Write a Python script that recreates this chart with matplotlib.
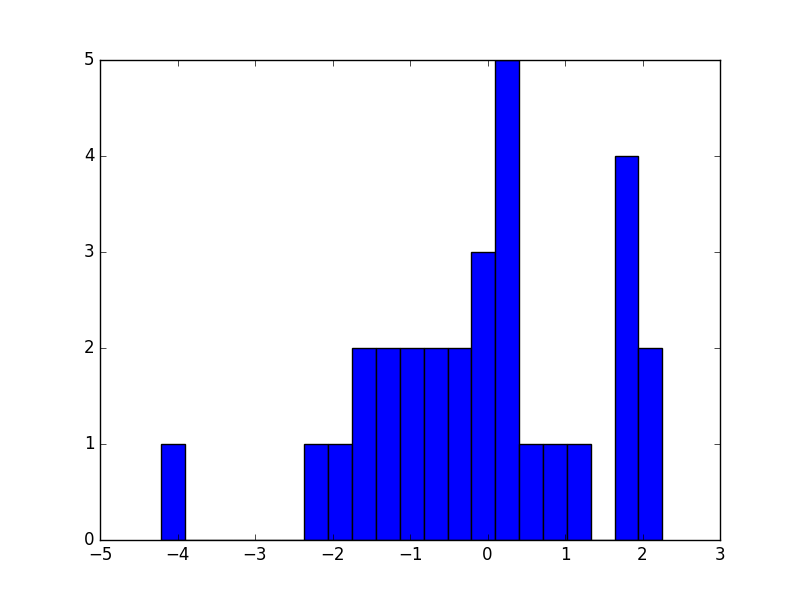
import numpy as np
import matplotlib
matplotlib.use('Agg')
import matplotlib.pyplot as plt

plt.style.use('classic')

# histogram counts per bin, 21 equal bins
counts = [1, 0, 0, 0, 0, 0, 1, 1, 2, 2, 2, 2, 2, 3, 5, 1, 1, 1, 0, 4, 2]
bin_start = -4.21
bin_end = 2.255

edges = np.linspace(bin_start, bin_end, len(counts) + 1)
centers = (edges[:-1] + edges[1:]) / 2

fig, ax = plt.subplots(figsize=(8, 6), dpi=100)
ax.hist(centers, bins=edges, weights=counts, color='b', edgecolor='k')
ax.set_xlim(-5, 3)
ax.set_ylim(0, 5)

fig.savefig('out.png', dpi=100)
